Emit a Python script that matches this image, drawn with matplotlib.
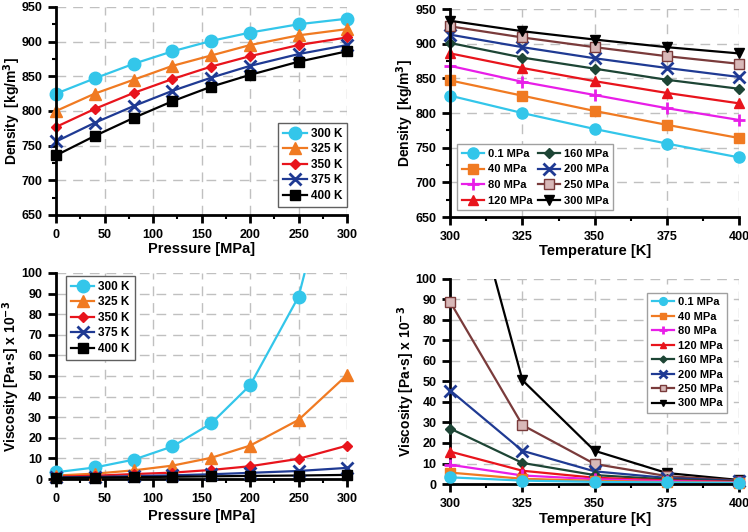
import matplotlib.pyplot as plt
from matplotlib.ticker import MultipleLocator, AutoMinorLocator

plt.rcParams['font.family'] = ['Liberation Sans', 'DejaVu Sans']
plt.rcParams['font.weight'] = 'bold'
plt.rcParams['axes.labelweight'] = 'bold'
plt.rcParams['mathtext.default'] = 'bf'

"""********************* DATA ***************************"""
pressure = [0.1, 40, 80, 120, 160, 200, 250, 300]       # MPa
temperature = [300, 325, 350, 375, 400]                  # K

# density [kg/m3], one list per temperature (over pressure)
dens_300 = [825, 847, 868, 886, 901, 913, 925, 933]
dens_325 = [800, 825, 845, 865, 880, 895, 909, 918]
dens_350 = [777, 803, 826, 846, 864, 879, 895, 906]
dens_375 = [756, 783, 807, 829, 848, 865, 882, 895]
dens_400 = [736, 764, 790, 814, 835, 852, 871, 886]

# viscosity [Pa s] x 1e-3, one list per temperature (over pressure)
visc_300 = [3.3, 5.6, 9.4, 15.8, 27.0, 45.5, 88.5, 180.0]
visc_325 = [1.7, 2.6, 4.2, 6.5, 10.3, 16.2, 28.7, 50.5]
visc_350 = [1.1, 1.6, 2.4, 3.1, 4.4, 6.2, 9.8, 16.2]
visc_375 = [0.8, 1.0, 1.4, 1.8, 2.3, 3.0, 3.9, 5.4]
visc_400 = [0.6, 0.7, 0.9, 1.1, 1.3, 1.5, 1.7, 2.0]

t_labels = ['300 K', '325 K', '350 K', '375 K', '400 K']
p_labels = ['0.1 MPa', '40 MPa', '80 MPa', '120 MPa',
            '160 MPa', '200 MPa', '250 MPa', '300 MPa']

dens = [dens_300, dens_325, dens_350, dens_375, dens_400]
visc = [visc_300, visc_325, visc_350, visc_375, visc_400]

""" styles """
t_style = [('#33c6ea', 'o', 9), ('#f07a22', '^', 8), ('#e8141c', 'D', 5),
           ('#1f3a93', 'x', 8), ('#000000', 's', 7)]
p_style = [('#33c6ea', 'o', 8, None), ('#f07a22', 's', 7, None),
           ('#e81ee8', '+', 9, None), ('#e8141c', '^', 7, None),
           ('#1d4535', 'D', 5, None), ('#1f3a93', 'x', 8, None),
           ('#7a3b3b', 's', 7, '#d8b8b8'), ('#000000', 'v', 7, None)]

leg_kw = dict(fancybox=False, framealpha=1, handlelength=2.0,
              handletextpad=0.35, borderpad=0.4, borderaxespad=0)


def style_axes(ax, xlim, ylim, xmaj, ymaj, yminor=True):
    ax.set_xlim(xlim)
    ax.set_ylim(ylim)
    ax.xaxis.set_major_locator(MultipleLocator(xmaj))
    ax.yaxis.set_major_locator(MultipleLocator(ymaj))
    ax.xaxis.set_minor_locator(AutoMinorLocator(2))
    if yminor:
        ax.yaxis.set_minor_locator(AutoMinorLocator(2))
    for s in ['top', 'right']:
        ax.spines[s].set_visible(False)
    for s in ['left', 'bottom']:
        ax.spines[s].set_linewidth(2)
    ax.tick_params(which='major', direction='out', length=6, width=2,
                   labelsize=9, pad=4)
    ax.tick_params(which='minor', direction='out', length=3, width=1.5)
    ax.grid(True, which='major', linestyle=(0, (7, 5)), color='#c0c0c0',
            linewidth=1)
    ax.set_axisbelow(True)
    for lab in ax.get_xticklabels() + ax.get_yticklabels():
        lab.set_fontweight('bold')


def labels(ax, xl, yl, xy, yx):
    ax.set_xlabel(xl, fontsize=10.5, va='center')
    ax.set_ylabel(yl, fontsize=10, va='center')
    ax.xaxis.set_label_coords(0.5, xy)
    ax.yaxis.set_label_coords(yx, 0.5)


def visc_line(ax, xs, ys, c, m, ms, fc, lab, z=3):
    # line clipped at the top of the axes, markers inside drawn unclipped
    ax.plot(xs, ys, color=c, lw=1.6, zorder=z - 1)
    xin = [x for x, y in zip(xs, ys) if y <= 100]
    yin = [y for y in ys if y <= 100]
    ax.plot(xin, yin, ls='none', color=c, marker=m, ms=ms,
            mfc=fc if fc else c, mew=2 if m in 'x+' else 1, clip_on=False,
            zorder=z)
    ax.plot([], [], color=c, lw=1.6, marker=m, ms=ms,
            mfc=fc if fc else c, mew=2 if m in 'x+' else 1, label=lab)


fig = plt.figure(figsize=(7.48, 5.32), dpi=100)

"""*************** DENSITY vs PRESSURE ***************"""
ax1 = fig.add_axes([0.075, 0.596, 0.389, 0.391])
for i in range(5):
    c, m, ms = t_style[i]
    ax1.plot(pressure, dens[i], color=c, marker=m, ms=ms, lw=1.6,
             mew=2 if m == 'x' else 1, label=t_labels[i], clip_on=False)
style_axes(ax1, (0, 300), (650, 950), 50, 50)
labels(ax1, 'Pressure [MPa]', 'Density  [kg/m$^3$]', -0.162, -0.151)
ax1.legend(loc='lower right', bbox_to_anchor=(1.0, 0.04), fontsize=8.5,
           edgecolor='#606060', labelspacing=0.3, **leg_kw)

"""*************** DENSITY vs TEMPERATURE ***************"""
ax2 = fig.add_axes([0.602, 0.592, 0.386, 0.391])
for j in range(8):
    c, m, ms, fc = p_style[j]
    ys = [dens[i][j] for i in range(5)]
    ax2.plot(temperature, ys, color=c, marker=m, ms=ms, lw=1.6,
             mfc=fc if fc else c, mew=2 if m in 'x+' else 1,
             label=p_labels[j], clip_on=False)
style_axes(ax2, (300, 400), (650, 950), 25, 50)
labels(ax2, 'Temperature [K]', 'Density  [kg/m$^3$]', -0.163, -0.156)
ax2.legend(loc='lower left', bbox_to_anchor=(0.024, 0.034), ncol=2,
           fontsize=8, edgecolor='#a0a0a0', labelspacing=0.5,
           columnspacing=0.5, **leg_kw)

"""*************** VISCOSITY vs PRESSURE ***************"""
ax3 = fig.add_axes([0.075, 0.0996, 0.389, 0.3874])
for i in range(5):
    c, m, ms = t_style[i]
    visc_line(ax3, pressure, visc[i], c, m, ms, None, t_labels[i])
style_axes(ax3, (0, 300), (0, 100), 50, 10, yminor=False)
labels(ax3, 'Pressure [MPa]', 'Viscosity [Pa$\\cdot$s] x 10$^{-3}$',
       -0.178, -0.155)
ax3.legend(loc='upper left', bbox_to_anchor=(0.034, 0.985), fontsize=8.5,
           edgecolor='#606060', labelspacing=0.3, **leg_kw)

"""*************** VISCOSITY vs TEMPERATURE ***************"""
ax4 = fig.add_axes([0.602, 0.090, 0.386, 0.3865])
for j in range(8):
    c, m, ms, fc = p_style[j]
    ys = [visc[i][j] for i in range(5)]
    # low pressures drawn on top, as in the original
    visc_line(ax4, temperature, ys, c, m, ms, fc, p_labels[j],
              z=3 + (8 - j) * 0.05)
style_axes(ax4, (300, 400), (0, 100), 25, 10, yminor=False)
labels(ax4, 'Temperature [K]', 'Viscosity [Pa$\\cdot$s] x 10$^{-3}$',
       -0.172, -0.152)
ax4.legend(loc='upper right', bbox_to_anchor=(0.958, 0.93), fontsize=8,
           edgecolor='#a0a0a0', labelspacing=0.4, markerscale=0.7,
           **leg_kw)

fig.savefig('out.png', dpi=100)
